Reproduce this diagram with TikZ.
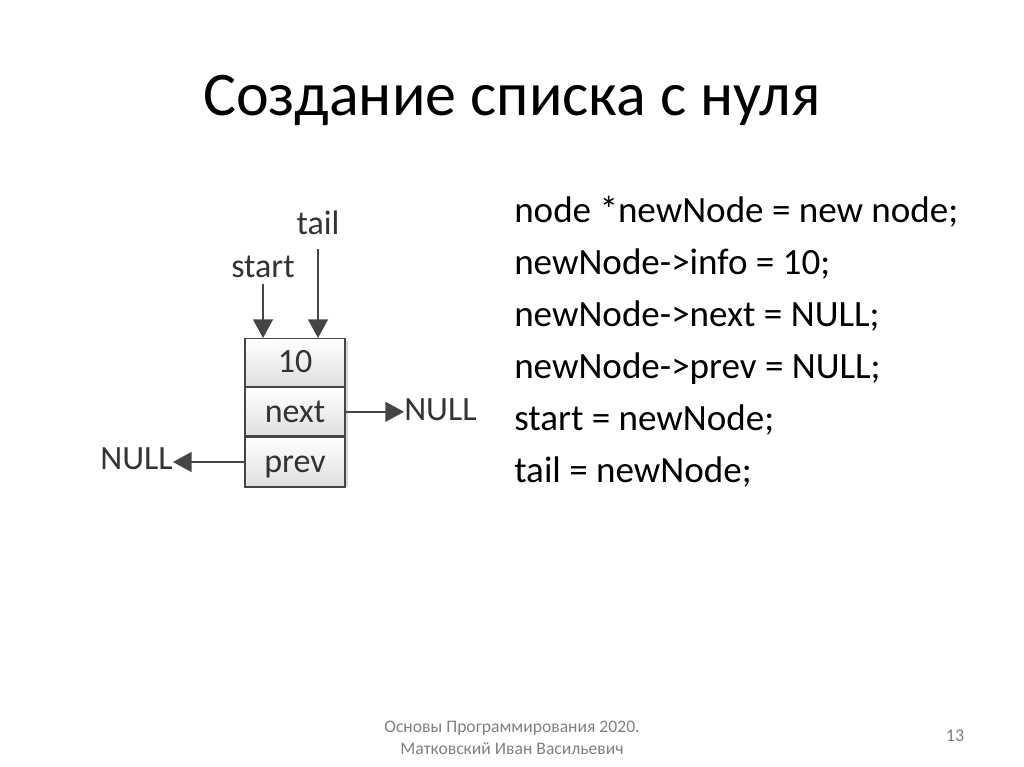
\documentclass[tikz,border=0pt]{standalone}
\usepackage{fontspec}
\setmainfont{Carlito}
\usetikzlibrary{arrows.meta,positioning,shadows}

\definecolor{cellfill}{HTML}{F0F0F0}
\definecolor{edgegray}{HTML}{454545}
\definecolor{footgray}{HTML}{7F7F7F}

\begin{document}
\begin{tikzpicture}[x=0.75pt, y=-0.75pt,
    cell/.style={draw=edgegray, top color=white, bottom color=cellfill!85!gray, line width=0.9pt,
                 minimum width=75pt, minimum height=36pt, inner sep=0pt,
                 text height=18.5pt, text depth=3pt,
                 font=\fontsize{25.5}{28}\selectfont, text=black!80},
    lbl/.style={inner sep=0pt, font=\fontsize{25.5}{28}\selectfont, text=black!80},
    ptr/.style={draw=edgegray, line width=1.1pt, -{Triangle[length=14pt, width=15pt]}},
    codeline/.style={anchor=base west, inner sep=0pt, font=\fontsize{27.8}{32}\selectfont},
    foot/.style={inner sep=0pt, text=footgray, font=\fontsize{13.2}{16.5}\selectfont}]
  \useasboundingbox (0,0) rectangle (1024,767);

  % title
  \node[inner sep=0pt, anchor=base, font=\fontsize{46.5}{50}\selectfont] (title) at (512,115) {Создание списка с нуля};

  % the list node
  \fill[white, drop shadow={shadow xshift=2.5pt, shadow yshift=-2.5pt, opacity=0.3}] (245,338) rectangle (345,484);
  \node[cell, anchor=north] (info) at (295,338) {10};
  \node[cell, anchor=north] (next) at (info.south) {next};
  \node[cell, anchor=north, minimum height=37.5pt] (prev) at (next.south) {prev};

  % pointers
  \node[lbl] (start) at (263,267) {start};
  \node[lbl] (tail) at (318,223) {tail};
  \node[lbl, anchor=west] (nullR) at (404,410) {NULL};
  \node[lbl, anchor=east] (nullL) at (173,459) {NULL};
  \draw[ptr] (start.south) ++(0,6) -- (start.south |- info.north);
  \draw[ptr] (tail.south) ++(0,14) -- (tail.south |- info.north);
  \draw[ptr] (next.east) -- (next.east -| nullR.west);
  \draw[ptr] (prev.west) -- (prev.west -| nullL.east);

  % code
  \node[codeline] (c1) at (514,222) {node *newNode = new node;};
  \node[codeline] (c2) at (514,274) {newNode->info = 10;};
  \node[codeline] (c3) at (514,326) {newNode->next = NULL;};
  \node[codeline] (c4) at (514,378) {newNode->prev = NULL;};
  \node[codeline] (c5) at (514,430) {start = newNode;};
  \node[codeline] (c6) at (514,482) {tail = newNode;};

  % footer
  \node[foot, align=center] (credits) at (512,738) {Основы Программирования 2020.\\Матковский Иван Васильевич};
  \node[foot, font=\fontsize{13.5}{16}\selectfont] (pageno) at (955,736) {13};
\end{tikzpicture}
\end{document}
